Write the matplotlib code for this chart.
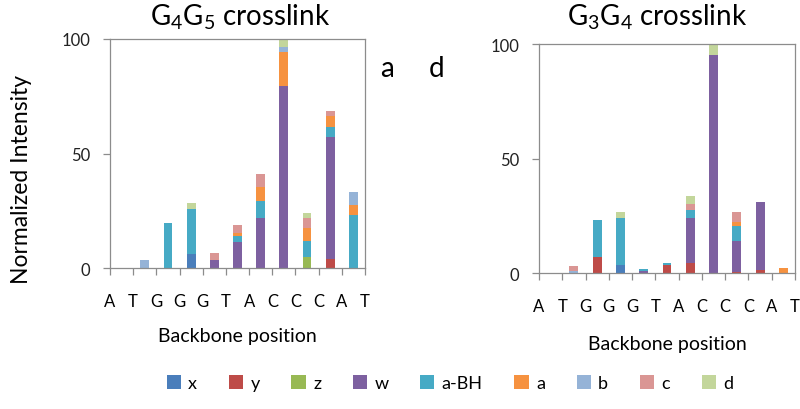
import matplotlib
matplotlib.use("Agg")
import matplotlib.pyplot as plt
from matplotlib.patches import Patch
import numpy as np

plt.rcParams['font.family'] = ['Lato', 'DejaVu Sans']
plt.rcParams['mathtext.default'] = 'regular'

bases = ['A', 'T', 'G', 'G', 'G', 'T', 'A', 'C', 'C', 'C', 'A', 'T']
series_names = ['x', 'y', 'z', 'w', 'a-BH', 'a', 'b', 'c', 'd']
colors = ['#4A7EBB', '#BE4B48', '#98B954', '#7D60A0', '#46AAC5',
          '#F69240', '#95B3D7', '#DA9694', '#C3D69B']

# G4G5 crosslink (11 backbone positions)
g45_x    = [0, 0, 0, 6.1, 0, 0, 0, 0, 0, 0, 0]
g45_y    = [0, 0, 0, 0, 0, 0, 0, 0, 0, 3.9, 0]
g45_z    = [0, 0, 0, 0, 0, 0, 0, 0, 4.9, 0, 0]
g45_w    = [0, 0, 0, 0, 3.6, 11.2, 21.8, 79.3, 0, 53.2, 0]
g45_aBH  = [0, 0, 19.6, 19.5, 0, 2.6, 7.5, 0, 6.7, 4.6, 23.3]
g45_a    = [0, 0, 0, 0, 0, 1.3, 6.1, 14.9, 5.9, 4.5, 4.4]
g45_b    = [0, 3.6, 0, 0, 0, 0, 0, 2.2, 0, 0, 5.6]
g45_c    = [0, 0, 0, 0, 2.9, 3.7, 5.5, 0, 4.2, 2.5, 0]
g45_d    = [0, 0, 0, 2.9, 0, 0, 0, 3.6, 2.3, 0, 0]

# G3G4 crosslink
g34_x    = [0, 0, 0, 3.5, 0, 0, 0, 0, 0, 0, 0]
g34_y    = [0, 0, 7.3, 0, 0, 3.6, 4.4, 0, 0.7, 1.6, 0]
g34_z    = [0, 0, 0, 0, 0, 0, 0, 0, 0, 0, 0]
g34_w    = [0, 0, 0, 0, 0.8, 0, 19.6, 95.3, 13.4, 29.7, 0]
g34_aBH  = [0, 0, 15.8, 20.6, 1.2, 1.1, 3.6, 0, 6.7, 0, 0]
g34_a    = [0, 0, 0, 0, 0, 0, 0, 0, 1.4, 0, 2.5]
g34_b    = [0, 1.0, 0, 0, 0, 0, 0, 0, 0, 0, 0]
g34_c    = [0, 2.0, 0, 0, 0, 0, 2.6, 0, 4.7, 0, 0]
g34_d    = [0, 0, 0, 2.8, 0, 0, 3.4, 4.7, 0, 0, 0]

g45 = [g45_x, g45_y, g45_z, g45_w, g45_aBH, g45_a, g45_b, g45_c, g45_d]
g34 = [g34_x, g34_y, g34_z, g34_w, g34_aBH, g34_a, g34_b, g34_c, g34_d]

fig = plt.figure(figsize=(8, 4.1), dpi=100)
ax1 = fig.add_axes([110/800, 1-269/410, 255/800, 229/410])
ax2 = fig.add_axes([539/800, 1-274.3/410, 256/800, 229.3/410])

spine_col = '#8C8C8C'

def draw(ax, data, title, title_x, xlab_pad):
    pos = np.arange(len(data[0])) + 0.5
    bottom = np.zeros(len(pos))
    for vals, col in zip(data, colors):
        v = np.array(vals, dtype=float)
        ax.bar(pos, v, width=0.38, bottom=bottom, color=col, linewidth=0)
        bottom += v
    ax.set_xlim(0, len(pos))
    ax.set_ylim(0, 100)
    ax.set_yticks([0, 50, 100])
    ax.set_xticks(np.arange(len(bases)))
    ax.set_xticklabels(bases)
    for s in ax.spines.values():
        s.set_color(spine_col)
        s.set_linewidth(0.9)
    ax.tick_params(axis='x', colors=spine_col, length=5, width=0.9,
                   pad=13, labelcolor='black', labelsize=12)
    ax.tick_params(axis='y', colors=spine_col, length=5, width=0.9,
                   pad=9, labelcolor='#222222', labelsize=12)
    ax.set_xlabel('Backbone position', fontsize=14, labelpad=xlab_pad)
    fig.text(title_x, 1-25/410, title, fontsize=20, ha='center',
             va='baseline')

draw(ax1, g45, r'G$_4$G$_5$ crosslink', 240/800, 13)
draw(ax2, g34, r'G$_3$G$_4$ crosslink', 657/800, 15)

fig.text(22/800, 1-180/410, 'Normalized Intensity', rotation=90,
         fontsize=16.5, ha='center', va='center')
fig.text(387/800, 1-69/410, 'a', fontsize=20, ha='center', va='center')
fig.text(437/800, 1-69/410, 'd', fontsize=20, ha='center', va='center')

handles = [Patch(facecolor=c, edgecolor='none') for c in colors]
fig.legend(handles, series_names, loc='center', ncol=9,
           bbox_to_anchor=(450/800, 1-384/410), frameon=False,
           fontsize=13, handlelength=0.8, handleheight=0.8,
           handletextpad=0.4, columnspacing=1.75)

fig.savefig('out.png', dpi=100)
